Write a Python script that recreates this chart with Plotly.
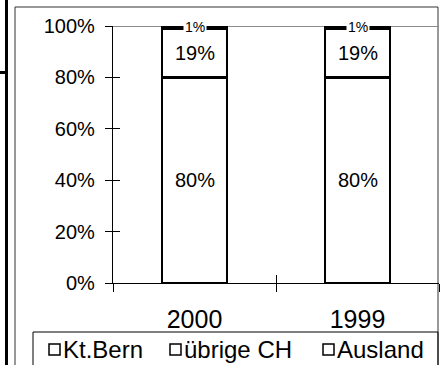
import plotly.graph_objects as go

# Herkunft der Studierenden, Anteile in Prozent
years = ["2000", "1999"]
series_names = ["Kt.Bern", "übrige CH", "Ausland"]
kt_bern = [80, 80]
uebrige_ch = [19, 19]
ausland = [1, 1]
y_ticks = [0, 20, 40, 60, 80, 100]
y_tick_labels = ["0%", "20%", "40%", "60%", "80%", "100%"]

W, H = 444, 365
L, R, T, B = 113, 5, 26, 82
PW, PH = W - L - R, H - T - B
FONT = "Arial, Liberation Sans, sans-serif"


def px(x):
    return (x - L) / PW


def py(y):
    return (H - B - y) / PH


fig = go.Figure()
all_series = [kt_bern, uebrige_ch, ausland]
for name, vals in zip(series_names, all_series):
    fig.add_trace(go.Bar(
        x=years, y=vals, name=name,
        marker=dict(color="white", line=dict(color="black", width=2.5)),
        cliponaxis=False, showlegend=False, hoverinfo="skip",
    ))

# empty trace so the overlay axes (inner tick halves) get drawn
fig.add_trace(go.Scatter(x=years, y=[None] * len(years), xaxis="x2", yaxis="y2",
                         mode="markers", showlegend=False, hoverinfo="skip"))

# segment labels, centred in each segment (category axis -> index position)
annotations = []
base = [0] * len(years)
for vals in all_series:
    for i, v in enumerate(vals):
        mid = base[i] + v / 2
        small = v < 5
        ann = dict(x=i, y=mid, xref="x", yref="y", text=f"{v}%", showarrow=False,
                   font=dict(family=FONT, size=14 if small else 20, color="black"))
        if small:
            ann.update(bgcolor="white", borderpad=1)
        annotations.append(ann)
        base[i] += v

# legend drawn by hand: square + name
legend_x = [49, 170, 323]
shapes = []
for name, lx in zip(series_names, legend_x):
    shapes.append(dict(type="rect", xref="paper", yref="paper",
                       x0=px(lx), x1=px(lx + 11), y0=py(355), y1=py(344),
                       line=dict(color="black", width=1.5), fillcolor="white"))
    annotations.append(dict(x=px(lx + 12), y=py(349), xref="paper", yref="paper",
                            xanchor="left", yanchor="middle", text=name, showarrow=False,
                            font=dict(family=FONT, size=24, color="black")))

# frame, legend box and edge lines
shapes += [
    dict(type="rect", xref="paper", yref="paper", x0=px(15), x1=px(438), y0=py(380), y1=py(7),
         line=dict(color="#333333", width=1), layer="below"),
    dict(type="rect", xref="paper", yref="paper", x0=px(33), x1=px(438), y0=py(380), y1=py(332),
         line=dict(color="black", width=1), layer="below"),
    dict(type="line", xref="paper", yref="paper", x0=px(6.5), x1=px(6.5), y0=py(0), y1=py(365),
         line=dict(color="black", width=3)),
    dict(type="line", xref="paper", yref="paper", x0=px(0), x1=px(6), y0=py(72.5), y1=py(72.5),
         line=dict(color="black", width=3)),
    dict(type="line", xref="paper", yref="y", x0=0, x1=1, y0=100, y1=100,
         line=dict(color="#8c8c8c", width=2), layer="below"),
]

fig.update_layout(
    width=W, height=H,
    margin=dict(l=L, r=R, t=T, b=B, pad=0),
    barmode="stack", bargap=0.6,
    paper_bgcolor="white", plot_bgcolor="white",
    font=dict(family=FONT, color="black"),
    showlegend=False,
    xaxis=dict(type="category", categoryorder="array", categoryarray=years,
               range=[-0.5, 1.5], showline=True, linecolor="black", linewidth=1.3,
               ticks="outside", tickson="boundaries", ticklen=8, tickcolor="black", tickwidth=1.3,
               tickfont=dict(family=FONT, size=25), showgrid=False, zeroline=False,
               ticklabelstandoff=14),
    xaxis2=dict(type="category", categoryorder="array", categoryarray=years,
                range=[-0.5, 1.5], overlaying="x", anchor="y2",
                ticks="inside", tickson="boundaries", ticklen=8, tickcolor="black", tickwidth=1.3,
                showticklabels=False, showline=False, showgrid=False, zeroline=False),
    yaxis=dict(range=[0, 100], tickvals=y_ticks, ticktext=y_tick_labels,
               showline=True, linecolor="black", linewidth=1.3,
               ticks="outside", ticklen=7, tickcolor="black", tickwidth=1.3,
               tickfont=dict(family=FONT, size=20), showgrid=False, zeroline=False,
               ticklabelstandoff=6),
    yaxis2=dict(range=[0, 100], tickvals=y_ticks, overlaying="y", anchor="x2",
                ticks="inside", ticklen=7, tickcolor="black", tickwidth=1.3,
                showticklabels=False, showline=False, showgrid=False, zeroline=False),
    annotations=annotations,
    shapes=shapes,
)

fig.write_html("out.html")
